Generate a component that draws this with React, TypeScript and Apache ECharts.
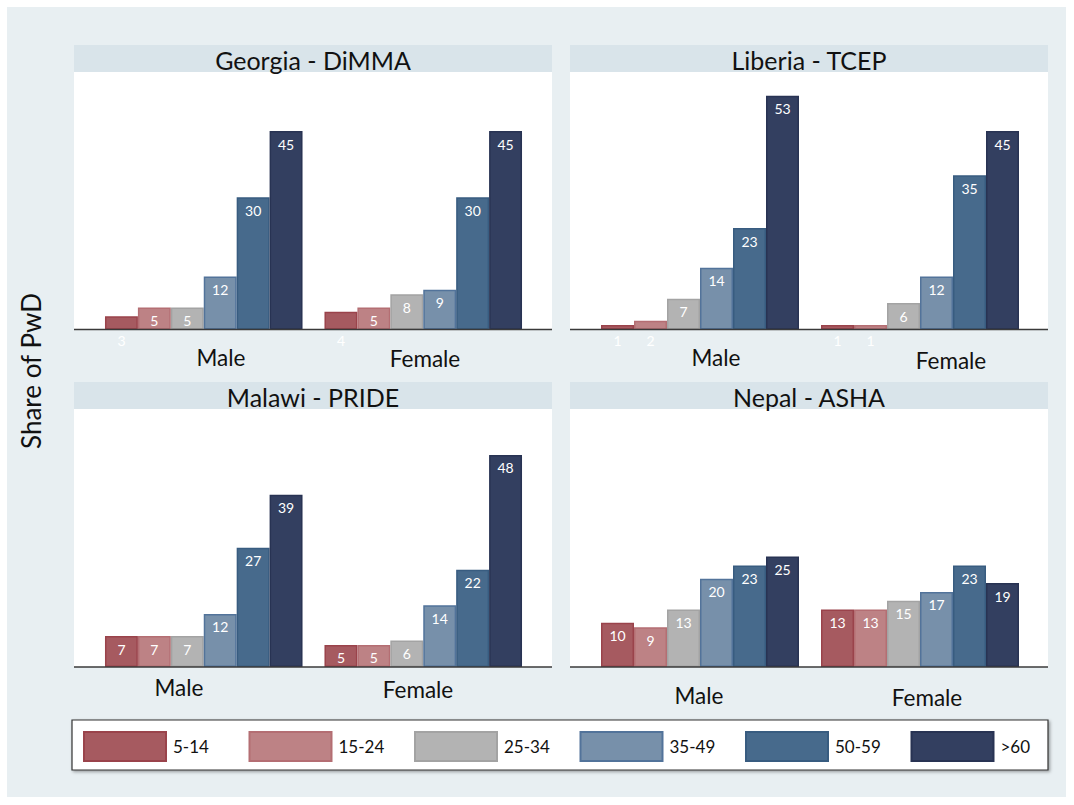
import React, { useEffect, useRef } from "react";
import * as echarts from "echarts";

const ageGroups = ["5-14", "15-24", "25-34", "35-49", "50-59", ">60"];
const sexes = ["Male", "Female"];
const panelTitles = ["Georgia - DiMMA", "Liberia - TCEP", "Malawi - PRIDE", "Nepal - ASHA"];

const georgiaMale = [3, 5, 5, 12, 30, 45];
const georgiaFemale = [4, 5, 8, 9, 30, 45];
const liberiaMale = [1, 2, 7, 14, 23, 53];
const liberiaFemale = [1, 1, 6, 12, 35, 45];
const malawiMale = [7, 7, 7, 12, 27, 39];
const malawiFemale = [5, 5, 6, 14, 22, 48];
const nepalMale = [10, 9, 13, 20, 23, 25];
const nepalFemale = [13, 13, 15, 17, 23, 19];

const yAxisTitle = "Share of PwD";

const FONT = "Lato, 'Open Sans', sans-serif";
const fills = ["#a65a60", "#bd8285", "#b3b3b3", "#7790aa", "#476a8c", "#333f60"];
const borders = ["#9a434b", "#b46e73", "#a3a3a3", "#52739a", "#385c80", "#283353"];

const panels = [
  { pl: 74, pr: 552, band: 45, top: 72, axis: 329.5, gl: 94, gw: 439 },
  { pl: 570, pr: 1048, band: 45, top: 72, axis: 329.5, gl: 590, gw: 440 },
  { pl: 74, pr: 552, band: 382, top: 409, axis: 667, gl: 94, gw: 439 },
  { pl: 570, pr: 1048, band: 382, top: 409, axis: 667, gl: 590, gw: 440 },
];
const catLabelPos = [
  [[221, 357], [425, 358]],
  [[716, 357], [951, 360]],
  [[179, 687], [418, 689]],
  [[699, 695], [927, 697]],
];

const panelData = [
  [georgiaMale, georgiaFemale],
  [liberiaMale, liberiaFemale],
  [malawiMale, malawiFemale],
  [nepalMale, nepalFemale],
];

export default function App() {
  const ref = useRef<HTMLDivElement>(null);
  useEffect(() => {
    if (!ref.current) return;
    const chart = echarts.init(ref.current, undefined, { renderer: "svg" });

    const grid: any[] = [];
    const xAxis: any[] = [];
    const yAxis: any[] = [];
    const series: any[] = [];
    const graphic: any[] = [];

    graphic.push({
      type: "rect",
      shape: { x: 7, y: 7, width: 1059, height: 790 },
      style: { fill: "#e8eff2" },
      z: -20,
    });

    panels.forEach((p, i) => {
      grid.push({ left: p.gl, width: p.gw, top: p.top, height: p.axis - p.top });
      xAxis.push({
        type: "category",
        gridIndex: i,
        data: sexes,
        axisLine: { show: false },
        axisTick: { show: false },
        axisLabel: { show: false },
      });
      yAxis.push({
        type: "value",
        gridIndex: i,
        min: 0,
        max: 58.4,
        show: false,
        splitLine: { show: false },
      });
      ageGroups.forEach((g, k) => {
        series.push({
          type: "bar",
          name: g,
          xAxisIndex: i,
          yAxisIndex: i,
          barGap: "0%",
          barCategoryGap: "10%",
          itemStyle: { color: fills[k], borderColor: borders[k], borderWidth: 1.5 },
          label: {
            show: true,
            position: "insideTop",
            distance: 6,
            color: "#ffffff",
            fontSize: 14,
            fontFamily: FONT,
          },
          data: panelData[i].map((arr) => {
            const v = arr[k];
            if (v < 5) {
              return {
                value: v,
                label: { position: "bottom", distance: 4, color: "#ffffff" },
              };
            }
            return v;
          }),
        });
      });
      graphic.push({
        type: "rect",
        shape: { x: p.pl, y: p.band, width: p.pr - p.pl, height: p.top - p.band },
        style: { fill: "#d9e4ea" },
        z: -10,
      });
      graphic.push({
        type: "rect",
        shape: { x: p.pl, y: p.top, width: p.pr - p.pl, height: p.axis - p.top },
        style: { fill: "#ffffff" },
        z: -10,
      });
      graphic.push({
        type: "line",
        shape: { x1: p.pl, y1: p.axis, x2: p.pr, y2: p.axis },
        style: { stroke: "#3a3a3a", lineWidth: 1.5 },
        z: 100,
      });
      graphic.push({
        type: "text",
        x: (p.pl + p.pr) / 2,
        y: (p.band + p.top) / 2 + 1,
        style: {
          text: panelTitles[i],
          fontSize: 25,
          fontFamily: FONT,
          fill: "#111111",
          align: "center",
          verticalAlign: "middle",
        },
        z: 100,
      });
      sexes.forEach((s, j) => {
        graphic.push({
          type: "text",
          x: catLabelPos[i][j][0],
          y: catLabelPos[i][j][1],
          style: {
            text: s,
            fontSize: 22.5,
            fontFamily: FONT,
            fill: "#111111",
            align: "center",
            verticalAlign: "middle",
          },
          z: 100,
        });
      });
    });

    graphic.push({
      type: "text",
      x: 31,
      y: 371,
      rotation: Math.PI / 2,
      style: {
        text: yAxisTitle,
        fontSize: 26,
        fontFamily: FONT,
        fill: "#111111",
        align: "center",
        verticalAlign: "middle",
      },
      z: 100,
    });

    graphic.push({
      type: "rect",
      shape: { x: 72, y: 720, width: 976, height: 50 },
      style: {
        fill: "#ffffff",
        stroke: "#333333",
        lineWidth: 1.2,
        shadowBlur: 3,
        shadowOffsetX: 1.5,
        shadowOffsetY: 1.5,
        shadowColor: "rgba(0,0,0,0.35)",
      },
      z: -5,
    });

    const legend = ageGroups.map((g, k) => ({
      data: [g],
      left: 83 + k * 165.5,
      top: 731,
      orient: "horizontal",
      icon: "rect",
      itemWidth: 82,
      itemHeight: 29,
      padding: 0,
      textStyle: {
        fontSize: 17,
        fontFamily: FONT,
        color: "#111111",
        padding: [4, 0, 0, 2],
      },
    }));

    chart.setOption({
      animation: false,
      grid,
      xAxis,
      yAxis,
      series,
      graphic,
      legend,
    });
    return () => chart.dispose();
  }, []);
  return (
    <div
      ref={ref}
      style={{ position: "absolute", left: 0, top: 0, width: 1074, height: 805 }}
    />
  );
}
